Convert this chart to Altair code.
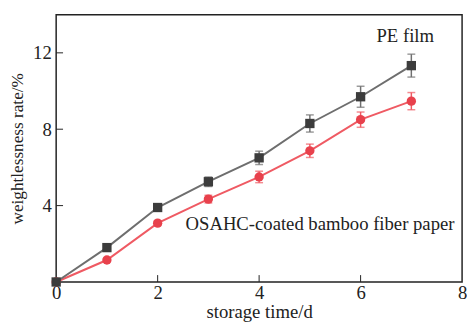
import altair as alt
import pandas as pd

days = [0, 1, 2, 3, 4, 5, 6, 7]
pe_vals = [0.0, 1.8, 3.9, 5.25, 6.5, 8.3, 9.7, 11.33]
pe_err = [0.0, 0.12, 0.15, 0.25, 0.35, 0.45, 0.55, 0.6]
os_vals = [0.0, 1.15, 3.08, 4.34, 5.5, 6.87, 8.5, 9.47]
os_err = [0.0, 0.1, 0.12, 0.2, 0.3, 0.35, 0.4, 0.45]

x_ticks = [2, 4, 6]
y_ticks = [4, 8, 12]

labels = ["PE film", "OSAHC-coated bamboo fiber paper"]
label_x = [6.88, 5.2]
label_y = [12.9, 3.03]

FONT = "Liberation Serif"

pe = pd.DataFrame({"day": days, "val": pe_vals, "err": pe_err})
pe["lo"] = pe["val"] - pe["err"]
pe["hi"] = pe["val"] + pe["err"]
os_ = pd.DataFrame({"day": days, "val": os_vals, "err": os_err})
os_["lo"] = os_["val"] - os_["err"]
os_["hi"] = os_["val"] + os_["err"]

xs = alt.Scale(domain=[0, 8], nice=False)
ys = alt.Scale(domain=[0, 14], nice=False)

xenc = alt.X("day:Q", scale=xs, axis=alt.Axis(
    values=[0, 2, 4, 6, 8], title="storage time/d", grid=False, ticks=False,
    domain=False, labelPadding=2, labelFlush=False, titlePadding=0,
    titleFontSize=19))
yenc = alt.Y("val:Q", scale=ys, axis=alt.Axis(
    values=[4, 8, 12], title="weightlessness rate/%", grid=False, ticks=False,
    domain=False, labelPadding=5, titleX=-39, titleBaseline="middle",
    titleFontSize=17.5))


def series(df, line_color, mark_color, err_color, shape):
    base = alt.Chart(df)
    line = base.mark_line(color=line_color, strokeWidth=2).encode(x=xenc, y=yenc)
    err = base.mark_rule(color=err_color, strokeWidth=1.5).encode(
        x=alt.X("day:Q", scale=xs), y=alt.Y("lo:Q", scale=ys), y2="hi:Q")
    cap_lo = base.mark_tick(color=err_color, size=8, thickness=1.5, orient="horizontal").encode(
        x=alt.X("day:Q", scale=xs), y=alt.Y("lo:Q", scale=ys))
    cap_hi = base.mark_tick(color=err_color, size=8, thickness=1.5, orient="horizontal").encode(
        x=alt.X("day:Q", scale=xs), y=alt.Y("hi:Q", scale=ys))
    pts = base.mark_point(shape=shape, filled=True, color=mark_color, opacity=1, size=90).encode(
        x=alt.X("day:Q", scale=xs), y=alt.Y("val:Q", scale=ys))
    return [line, err, cap_lo, cap_hi, pts]


pe_layers = series(pe, "#6e6e6e", "#3c3c3c", "#707070", "square")
os_layers = series(os_, "#ef5a63", "#e8414c", "#ef5a63", "circle")

xt = alt.Chart(pd.DataFrame({"t": x_ticks})).mark_rule(color="#222", strokeWidth=1).encode(
    x=alt.X("t:Q", scale=xs), y=alt.value(272), y2=alt.value(265))
yt = alt.Chart(pd.DataFrame({"t": y_ticks})).mark_rule(color="#222", strokeWidth=1).encode(
    y=alt.Y("t:Q", scale=ys), x=alt.value(0), x2=alt.value(7))

txt = alt.Chart(pd.DataFrame({"label": labels, "x": label_x, "y": label_y})).mark_text(
    font=FONT, fontSize=19, color="#222", align="center", baseline="middle").encode(
    x=alt.X("x:Q", scale=xs), y=alt.Y("y:Q", scale=ys), text="label:N")

chart = alt.layer(*os_layers, *pe_layers, xt, yt, txt).properties(
    width=413, height=272,
    autosize=alt.AutoSizeParams(type="none"),
    padding={"left": 49, "top": 4, "right": 5, "bottom": 40},
).configure(
    background="white",
    font=FONT,
    view=alt.ViewConfig(stroke="#222", strokeWidth=1.5),
    text=alt.MarkConfig(font=FONT),
    axis=alt.AxisConfig(
        labelFont=FONT, labelFontSize=19, labelColor="#222",
        titleFont=FONT, titleFontWeight="normal", titleColor="#222",
    ),
)

chart.save("out.html", embed_options={"renderer": "svg", "actions": False})
